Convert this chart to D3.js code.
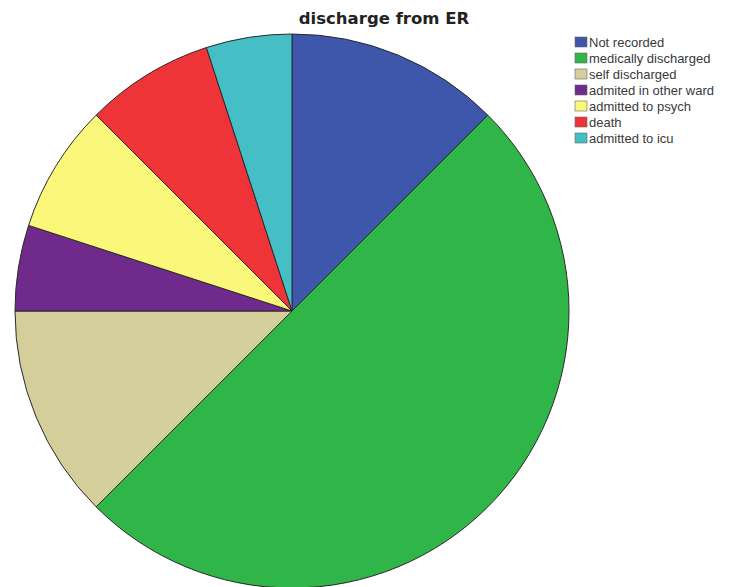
<!DOCTYPE html>
<html>
<head>
<meta charset="utf-8">
<script src="https://cdn.jsdelivr.net/npm/d3@7/dist/d3.min.js"></script>
<style>
  html, body { margin: 0; padding: 0; background: #fff; }
  svg { display: block; }
</style>
</head>
<body>
<svg id="chart" width="733" height="587"></svg>
<script>
// Discharge outcomes from the ER (counts per category)
const categories = ["Not recorded", "medically discharged", "self discharged",
  "admited in other ward", "admitted to psych", "death", "admitted to icu"];
const counts = [5, 20, 5, 2, 3, 3, 2];
const colors = ["#3e57ab", "#2fb548", "#d4cf9a", "#6f2a8b", "#fbf77a", "#ee3439", "#45bec6"];

const svg = d3.select("#chart");
const cx = 292, cy = 311, r = 277;

svg.append("text")
  .attr("x", 384).attr("y", 24)
  .attr("text-anchor", "middle")
  .attr("font-family", "DejaVu Sans, Verdana, sans-serif")
  .attr("font-weight", "bold")
  .attr("font-size", 16.5)
  .attr("fill", "#222")
  .text("discharge from ER");

const data = categories.map((c, i) => ({ name: c, value: counts[i], color: colors[i] }));

const pie = d3.pie().value(d => d.value).sort(null);
const arc = d3.arc().innerRadius(0).outerRadius(r);

svg.append("g")
  .attr("transform", `translate(${cx},${cy})`)
  .selectAll("path")
  .data(pie(data))
  .join("path")
  .attr("d", arc)
  .attr("fill", d => d.data.color)
  .attr("stroke", "#2a2a2a")
  .attr("stroke-width", 1);

// Legend
const legend = svg.append("g").attr("transform", "translate(575,37)");
const row = legend.selectAll("g").data(data).join("g")
  .attr("transform", (d, i) => `translate(0,${i * 16})`);
row.append("rect")
  .attr("width", 12).attr("height", 10)
  .attr("fill", d => d.color)
  .attr("stroke", "#666").attr("stroke-width", 0.6);
row.append("text")
  .attr("x", 14).attr("y", 10)
  .attr("font-family", "Liberation Sans, Arial, sans-serif")
  .attr("font-size", 13)
  .attr("fill", "#3a3a3a")
  .text(d => d.name);
</script>
</body>
</html>
